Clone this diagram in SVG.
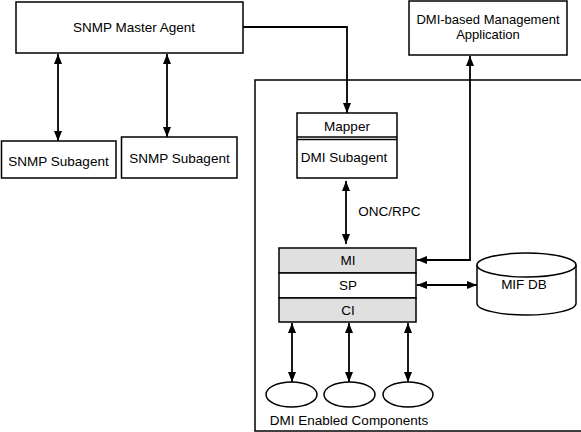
<svg xmlns="http://www.w3.org/2000/svg" width="581" height="432" viewBox="0 0 581 432">
<defs>
<marker id="ah" viewBox="0 0 10 8" refX="10" refY="4" markerWidth="10" markerHeight="8" markerUnits="userSpaceOnUse" orient="auto-start-reverse">
<path d="M0,0 L10,4 L0,8 Z" fill="#000"/>
</marker>
<style>
.b{fill:#fff;stroke:#000;stroke-width:1.5}
.g{fill:#e0e0e0;stroke:#000;stroke-width:1.5}
.t{font-family:"Liberation Sans",Arial,sans-serif;font-size:13.5px;fill:#000;text-anchor:middle}
.s{font-size:13px}
.c{fill:none;stroke:#000;stroke-width:1.8}
.a{marker-end:url(#ah)}
.d{marker-start:url(#ah);marker-end:url(#ah)}
</style>
</defs>
<rect width="581" height="432" fill="#fff"/>
<rect id="container" x="255" y="80" width="340" height="351" fill="none" stroke="#000" stroke-width="1.5"/>
<g id="master"><rect class="b" x="16" y="2" width="227" height="51"/><text class="t" x="134" y="32">SNMP Master Agent</text></g>
<g id="sub1"><rect class="b" x="1.5" y="141" width="114.5" height="37"/><text class="t" x="58.5" y="166">SNMP Subagent</text></g>
<g id="sub2"><rect class="b" x="121.5" y="137" width="115.5" height="41"/><text class="t" x="179.5" y="163">SNMP Subagent</text></g>
<g id="app"><rect class="b" x="409" y="1" width="158" height="54"/><text class="t s" x="488" y="24">DMI-based Management</text><text class="t s" x="488" y="38.5">Application</text></g>
<g id="dmisub"><rect class="b" x="297" y="113" width="100" height="65"/><line x1="297" y1="137" x2="397" y2="137" stroke="#000" stroke-width="1.5"/><line x1="297" y1="139.5" x2="397" y2="139.5" stroke="#000" stroke-width="1.5"/><text class="t" x="347" y="131">Mapper</text><text class="t" x="344" y="162">DMI Subagent</text></g>
<g id="stack"><rect class="g" x="279" y="248" width="137" height="25"/><rect class="b" x="279" y="273" width="137" height="25"/><rect class="g" x="279" y="298" width="137" height="24"/><text class="t" x="348" y="265">MI</text><text class="t" x="348" y="290">SP</text><text class="t" x="348" y="315">CI</text></g>
<g id="mifdb"><path class="b" d="M477,265 L477,303.5 A49.5,11.5 0 0 0 576,303.5 L576,265"/><ellipse class="b" cx="526.5" cy="265" rx="49.5" ry="12"/><text class="t" x="524" y="289">MIF DB</text></g>
<g id="comp1"><ellipse class="b" cx="291.5" cy="394.5" rx="25.5" ry="12.5"/></g>
<g id="comp2"><ellipse class="b" cx="349.5" cy="394.5" rx="25.5" ry="12.5"/></g>
<g id="comp3"><ellipse class="b" cx="408" cy="394.5" rx="25" ry="12.5"/></g>
<text class="t" x="349" y="425">DMI Enabled Components</text>
<text class="t" x="389.5" y="216">ONC/RPC</text>
<g id="connectors">
<line class="c d" x1="58" y1="54" x2="58" y2="141"/>
<line class="c d" x1="167" y1="54" x2="167" y2="137"/>
<polyline class="c a" points="243,27 347,27 347,113"/>
<line class="c d" x1="346" y1="181" x2="346" y2="244"/>
<polyline class="c d" points="470,56 470,260 417,260"/>
<line class="c d" x1="417" y1="285" x2="477" y2="285"/>
<line class="c d" x1="292" y1="323" x2="292" y2="382"/>
<line class="c d" x1="349" y1="323" x2="349" y2="382"/>
<line class="c d" x1="408" y1="323" x2="408" y2="382"/>
</g>
</svg>
